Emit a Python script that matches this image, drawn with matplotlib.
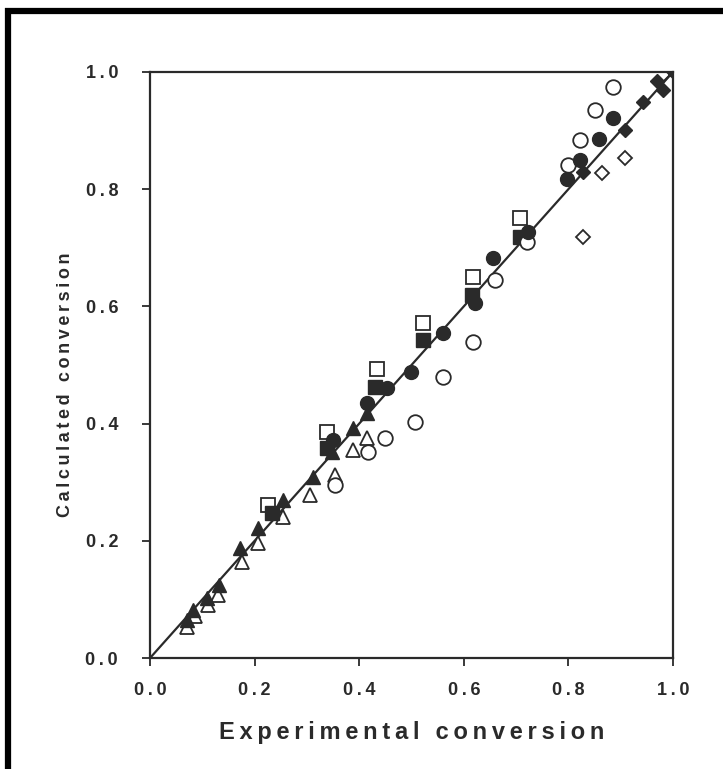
import matplotlib
matplotlib.use("Agg")
import matplotlib.pyplot as plt
from matplotlib.lines import Line2D

# experimental (x) vs calculated (y) conversion
tri_f_x = [0.070, 0.083, 0.108, 0.131, 0.172, 0.207, 0.255, 0.312, 0.348, 0.389, 0.415]
tri_f_y = [0.065, 0.082, 0.102, 0.125, 0.188, 0.222, 0.270, 0.309, 0.352, 0.392, 0.418]
tri_o_x = [0.070, 0.086, 0.111, 0.130, 0.176, 0.207, 0.255, 0.306, 0.354, 0.389, 0.414]
tri_o_y = [0.053, 0.072, 0.090, 0.108, 0.164, 0.196, 0.240, 0.278, 0.312, 0.355, 0.375]
sq_f_x = [0.233, 0.338, 0.430, 0.522, 0.616, 0.707]
sq_f_y = [0.247, 0.358, 0.462, 0.543, 0.619, 0.718]
sq_o_x = [0.226, 0.338, 0.434, 0.522, 0.617, 0.707]
sq_o_y = [0.261, 0.386, 0.493, 0.572, 0.650, 0.751]
circ_f_x = [0.350, 0.415, 0.453, 0.500, 0.560, 0.621, 0.656, 0.723, 0.797, 0.822, 0.858, 0.886]
circ_f_y = [0.372, 0.435, 0.461, 0.488, 0.555, 0.606, 0.683, 0.727, 0.818, 0.850, 0.885, 0.921]
circ_o_x = [0.354, 0.417, 0.449, 0.507, 0.560, 0.618, 0.660, 0.721, 0.800, 0.822, 0.851, 0.886]
circ_o_y = [0.295, 0.352, 0.375, 0.403, 0.479, 0.539, 0.645, 0.710, 0.841, 0.884, 0.935, 0.974]
dia_f_x = [0.828, 0.908, 0.943, 0.970, 0.981]
dia_f_y = [0.829, 0.901, 0.949, 0.985, 0.969]
dia_o_x = [0.828, 0.864, 0.908]
dia_o_y = [0.718, 0.828, 0.853]
cross_x = [0.995]
cross_y = [0.995]
ticks = [0.0, 0.2, 0.4, 0.6, 0.8, 1.0]
xlabel = "Experimental conversion"
ylabel = "Calculated conversion"

ink = "#2a2a2a"
plt.rcParams['font.family'] = ['Liberation Sans', 'DejaVu Sans']


def spaced(s, gap="\u2009"):
    # the scan has loose letter spacing, fake it with thin spaces
    return gap.join(s)


fig = plt.figure(figsize=(7.23, 7.69), dpi=100)
ax = fig.add_axes([0.2075, 0.1443, 0.7233, 0.7621])

ax.plot([0, 1], [0, 1], color=ink, lw=1.6, zorder=1)

ax.plot(tri_o_x, tri_o_y, ls='none', marker='^', ms=10, mfc='white', mec=ink, mew=1.3)
ax.plot(tri_f_x, tri_f_y, ls='none', marker='^', ms=10, mfc=ink, mec=ink)
ax.plot(sq_o_x, sq_o_y, ls='none', marker='s', ms=10, mfc='white', mec=ink, mew=1.3)
ax.plot(sq_f_x, sq_f_y, ls='none', marker='s', ms=10, mfc=ink, mec=ink)
ax.plot(circ_o_x, circ_o_y, ls='none', marker='o', ms=10.5, mfc='white', mec=ink, mew=1.3)
ax.plot(circ_f_x, circ_f_y, ls='none', marker='o', ms=10, mfc=ink, mec=ink)
ax.plot(dia_o_x, dia_o_y, ls='none', marker='D', ms=7, mfc='white', mec=ink, mew=1.3)
ax.plot(dia_f_x, dia_f_y, ls='none', marker='D', ms=7, mfc=ink, mec=ink)
ax.plot(cross_x, cross_y, ls='none', marker='x', ms=10, mec=ink, mew=1.5)

ax.set_xlim(0, 1)
ax.set_ylim(0, 1)
ax.set_xticks(ticks)
ax.set_yticks(ticks)
ax.set_xticklabels([spaced(f"{t:.1f}") for t in ticks])
ax.set_yticklabels([spaced(f"{t:.1f}") for t in ticks])
ax.tick_params(direction='out', length=6, width=1.3, color=ink, labelcolor=ink,
               labelsize=13, pad=11)
ax.tick_params(axis='y', pad=17)
for lab in ax.get_xticklabels() + ax.get_yticklabels():
    lab.set_fontweight('bold')
for sp in ax.spines.values():
    sp.set_color(ink)
    sp.set_linewidth(1.6)

ax.set_xlabel(spaced(xlabel), fontsize=17, fontweight='bold', color=ink, labelpad=16)
ax.set_ylabel(spaced(ylabel), fontsize=13, fontweight='bold', color=ink)
ax.yaxis.set_label_coords(-0.145, 0.466)

# thick page frame on top and left
fig.add_artist(Line2D([0.007, 1.0], [0.9857, 0.9857], color='black', lw=4.5,
                      transform=fig.transFigure, solid_capstyle='butt'))
fig.add_artist(Line2D([0.011, 0.011], [0.0, 0.9896], color='black', lw=4.5,
                      transform=fig.transFigure, solid_capstyle='butt'))

fig.savefig("out.png", dpi=100)
